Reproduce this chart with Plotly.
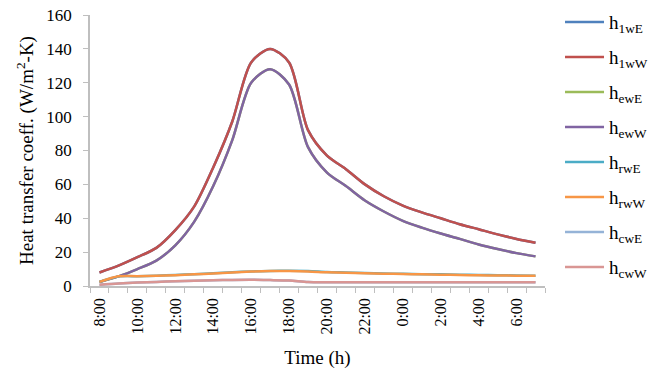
import plotly.graph_objects as go

hours = ["8:00", "9:00", "10:00", "11:00", "12:00", "13:00", "14:00", "15:00",
         "16:00", "17:00", "18:00", "19:00", "20:00", "21:00", "22:00", "23:00",
         "0:00", "1:00", "2:00", "3:00", "4:00", "5:00", "6:00", "7:00"]
tick_labels = ["8:00", "10:00", "12:00", "14:00", "16:00", "18:00",
               "20:00", "22:00", "0:00", "2:00", "4:00", "6:00"]

h1wE = [8, 12, 17, 22.5, 33, 47, 70, 97, 132, 140, 132, 92, 77, 69, 60, 53,
        47.5, 43.5, 40, 36.5, 33.5, 30.5, 27.8, 25.5]
h1wW = [8, 12, 17, 22.5, 33, 47, 70, 97, 132, 140, 132, 92, 77, 69, 60, 53,
        47.5, 43.5, 40, 36.5, 33.5, 30.5, 27.8, 25.5]
hewE = [2.4, 5.7, 10, 15, 24, 38, 59, 86, 120, 128, 119, 82, 67, 59, 50.5, 44,
        38.5, 34.5, 31, 27.8, 24.5, 21.8, 19.4, 17.5]
hewW = [2.4, 5.7, 10, 15, 24, 38, 59, 86, 120, 128, 119, 82, 67, 59, 50.5, 44,
        38.5, 34.5, 31, 27.8, 24.5, 21.8, 19.4, 17.5]
hrwE = [2.4, 5.6, 5.8, 6.1, 6.5, 7.0, 7.5, 8.1, 8.6, 8.9, 9.0, 8.9, 8.3, 8.0,
        7.7, 7.4, 7.2, 7.0, 6.9, 6.7, 6.5, 6.4, 6.2, 6.1]
hrwW = [2.4, 5.7, 5.8, 6.0, 6.4, 6.9, 7.4, 8.0, 8.5, 8.8, 8.8, 8.6, 8.1, 7.8,
        7.6, 7.3, 7.1, 6.9, 6.7, 6.5, 6.3, 6.2, 6.1, 6.0]
hcwE = [0.8, 1.5, 2.0, 2.4, 2.8, 3.1, 3.4, 3.6, 3.7, 3.5, 3.2, 2.3, 2.2, 2.2,
        2.2, 2.2, 2.2, 2.2, 2.2, 2.2, 2.2, 2.2, 2.2, 2.2]
hcwW = [0.8, 1.5, 2.0, 2.4, 2.8, 3.1, 3.4, 3.6, 3.7, 3.5, 3.2, 2.3, 2.2, 2.2,
        2.2, 2.2, 2.2, 2.2, 2.2, 2.2, 2.2, 2.2, 2.2, 2.2]

series = [
    ("h<sub>1wE</sub>", h1wE, "#4F81BD"),
    ("h<sub>1wW</sub>", h1wW, "#C0504D"),
    ("h<sub>ewE</sub>", hewE, "#9BBB59"),
    ("h<sub>ewW</sub>", hewW, "#8064A2"),
    ("h<sub>rwE</sub>", hrwE, "#4BACC6"),
    ("h<sub>rwW</sub>", hrwW, "#F79646"),
    ("h<sub>cwE</sub>", hcwE, "#95B3D7"),
    ("h<sub>cwW</sub>", hcwW, "#D99694"),
]

xidx = list(range(len(hours)))
fig = go.Figure()
for i, (name, vals, col) in enumerate(series):
    fig.add_trace(go.Scatter(
        x=xidx, y=vals, name=name, mode="lines",
        line=dict(color=col, width=2.5, shape="spline", smoothing=0.8),
        legendgroup=f"g{i}", customdata=hours, hoverinfo="skip",
    ))

font_family = "Liberation Serif, Times New Roman, serif"
fig.update_layout(
    width=658, height=369,
    margin=dict(l=90, r=113, t=15, b=83, autoexpand=False),
    paper_bgcolor="white", plot_bgcolor="white",
    font=dict(family=font_family, size=17, color="#000000"),
    hovermode=False,
    showlegend=True,
    legend=dict(
        x=1.033, y=1.044, xanchor="left", yanchor="top",
        font=dict(family=font_family, size=19, color="#000000"),
        tracegroupgap=7.3, itemwidth=39, bgcolor="rgba(0,0,0,0)",
        maxheight=368,
    ),
    xaxis=dict(
        range=[-0.5, 23.5],
        tickmode="array",
        tickvals=[xidx[hours.index(t)] for t in tick_labels],
        ticktext=tick_labels,
        tickangle=-90,
        ticks="",
        showgrid=False, zeroline=False, automargin=False,
        showline=True, linecolor="#BFBFBF", linewidth=1.5,
        tickfont=dict(size=16),
        ticklabelstandoff=4,
        minor=dict(ticks="outside", ticklen=5, tickcolor="#BFBFBF",
                   tickwidth=1, tickmode="linear", tick0=-0.5, dtick=1,
                   showgrid=False),
        title=dict(text="Time (h)", font=dict(size=19), standoff=17),
    ),
    yaxis=dict(
        range=[0, 160], dtick=20,
        ticks="outside", ticklen=5, tickcolor="#BFBFBF", tickwidth=1,
        showgrid=False, zeroline=False, automargin=False,
        showline=True, linecolor="#BFBFBF", linewidth=1.5,
        tickfont=dict(size=17),
        ticklabelstandoff=8,
        ticklabeloverflow="allow",
        title=dict(text="Heat transfer coeff. (W/m<sup>2</sup>-K)",
                   font=dict(size=19), standoff=8),
    ),
)

fig.write_html("out.html", config={"displayModeBar": False},
               post_script="document.body.style.margin='0';")
